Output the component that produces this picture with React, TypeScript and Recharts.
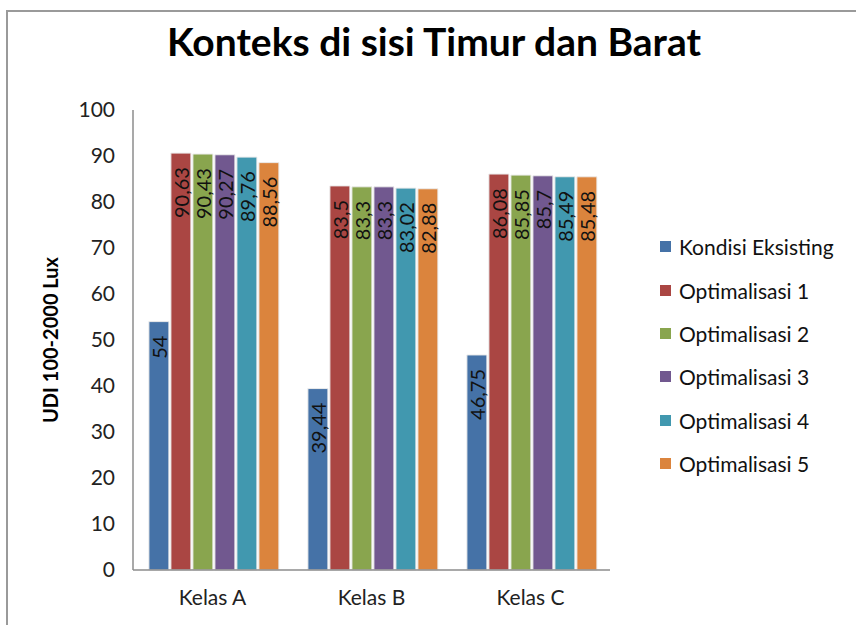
import React from "react";
import { BarChart, Bar, XAxis, YAxis, LabelList } from "recharts";

const categories = ["Kelas A", "Kelas B", "Kelas C"];
const seriesNames = [
  "Kondisi Eksisting",
  "Optimalisasi 1",
  "Optimalisasi 2",
  "Optimalisasi 3",
  "Optimalisasi 4",
  "Optimalisasi 5",
];
const kondisiEksisting = [54, 39.44, 46.75];
const optimalisasi1 = [90.63, 83.5, 86.08];
const optimalisasi2 = [90.43, 83.3, 85.85];
const optimalisasi3 = [90.27, 83.3, 85.7];
const optimalisasi4 = [89.76, 83.02, 85.49];
const optimalisasi5 = [88.56, 82.88, 85.48];
const yTicks = [0, 10, 20, 30, 40, 50, 60, 70, 80, 90, 100];

const COLORS = ["#4572A7", "#AA4643", "#89A54E", "#71588F", "#4198AF", "#DB843D"];
const FONT = "Lato, 'Open Sans', sans-serif";

const allSeries = [
  kondisiEksisting,
  optimalisasi1,
  optimalisasi2,
  optimalisasi3,
  optimalisasi4,
  optimalisasi5,
];

const data = categories.map((name, i) => {
  const row: Record<string, string | number> = { name };
  seriesNames.forEach((s, j) => {
    row[s] = allSeries[j][i];
  });
  return row;
});

const fmt = (v: number) => String(v).replace(".", ",");

// vertical label just under the top of the bar, reading bottom to top
const VerticalLabel = (props: any) => {
  const { x, y, width, value } = props;
  const cx = x + width / 2;
  const cy = y + 14;
  return (
    <text
      x={cx}
      y={cy}
      transform={`rotate(-90 ${cx} ${cy})`}
      textAnchor="end"
      dominantBaseline="central"
      fontSize={20}
      fontFamily={FONT}
      fill="#111"
    >
      {fmt(value)}
    </text>
  );
};

export default function App() {
  return (
    <div
      style={{
        position: "fixed",
        left: 0,
        top: 0,
        width: 856,
        height: 625,
        background: "#fff",
        overflow: "hidden",
      }}
    >
      <div
        style={{
          position: "absolute",
          left: 6,
          top: 10,
          width: 900,
          height: 700,
          borderTop: "2px solid #9a9a9a",
          borderLeft: "2px solid #9a9a9a",
        }}
      />
      <div
        style={{
          position: "absolute",
          left: 0,
          top: 18,
          width: 868,
          textAlign: "center",
          fontFamily: FONT,
          fontWeight: 700,
          fontSize: 39,
          color: "#000",
        }}
      >
        Konteks di sisi Timur dan Barat
      </div>
      <div style={{ position: "absolute", left: 0, top: 0 }}>
        <BarChart
          width={856}
          height={625}
          data={data}
          margin={{ top: 110, right: 246, bottom: 0, left: 73 }}
          barCategoryGap="10%"
          barGap={2}
        >
          <XAxis
            dataKey="name"
            tickLine={false}
            axisLine={{ stroke: "#8c8c8c", strokeWidth: 1.5 }}
            tick={{ fontSize: 21, fill: "#222", fontFamily: FONT, dy: 12 }}
            height={55}
          />
          <YAxis
            domain={[0, 100]}
            ticks={yTicks}
            width={60}
            tickLine={false}
            axisLine={{ stroke: "#8c8c8c", strokeWidth: 1.5 }}
            tick={{ fontSize: 21, fill: "#222", fontFamily: FONT, dx: -10 }}
            interval={0}
          />
          {seriesNames.map((s, j) => (
            <Bar
              key={s}
              dataKey={s}
              fill={COLORS[j]}
              stroke="#ececec"
              strokeWidth={1}
              isAnimationActive={false}
            >
              <LabelList dataKey={s} content={<VerticalLabel />} />
            </Bar>
          ))}
        </BarChart>
      </div>
      <div
        style={{
          position: "absolute",
          left: 660,
          top: 225,
          fontFamily: FONT,
        }}
      >
        {seriesNames.map((s, j) => (
          <div key={s} style={{ display: "flex", alignItems: "center", height: 43.4 }}>
            <span
              style={{
                width: 11,
                height: 11,
                background: COLORS[j],
                marginRight: 8,
                display: "inline-block",
              }}
            />
            <span style={{ fontSize: 21, color: "#111" }}>{s}</span>
          </div>
        ))}
      </div>
      <div
        style={{
          position: "absolute",
          left: 50,
          top: 340,
          transform: "translate(-50%, -50%) rotate(-90deg)",
          fontFamily: FONT,
          fontWeight: 700,
          fontSize: 20,
          whiteSpace: "nowrap",
          color: "#000",
        }}
      >
        UDI 100-2000 Lux
      </div>
    </div>
  );
}
